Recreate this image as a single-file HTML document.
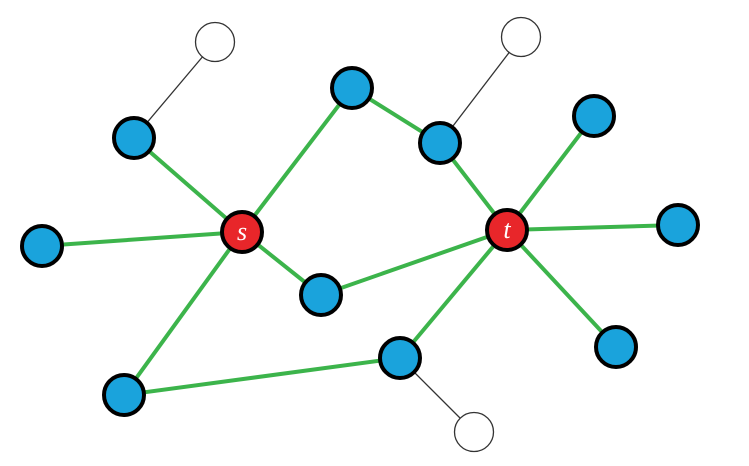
<!DOCTYPE html>
<html><head><style>html,body{margin:0;padding:0;background:#fff;width:749px;height:466px;overflow:hidden}</style></head>
<body>
<svg width="749" height="466" viewBox="0 0 749 466" xmlns="http://www.w3.org/2000/svg">
<g stroke="#333" stroke-width="1.3">
<line x1="134" y1="138" x2="215" y2="42"/>
<line x1="440" y1="143" x2="521" y2="37"/>
<line x1="400" y1="358" x2="474" y2="432"/>
</g>
<g stroke="#3cb44b" stroke-width="4">
<line x1="242" y1="232" x2="134" y2="138"/>
<line x1="242" y1="232" x2="352" y2="88"/>
<line x1="242" y1="232" x2="42" y2="246"/>
<line x1="242" y1="232" x2="321" y2="295"/>
<line x1="242" y1="232" x2="124" y2="395"/>
<line x1="352" y1="88" x2="440" y2="143"/>
<line x1="440" y1="143" x2="507" y2="230"/>
<line x1="321" y1="295" x2="507" y2="230"/>
<line x1="507" y1="230" x2="594" y2="116"/>
<line x1="507" y1="230" x2="678" y2="225"/>
<line x1="507" y1="230" x2="616" y2="347"/>
<line x1="507" y1="230" x2="400" y2="358"/>
<line x1="400" y1="358" x2="124" y2="395"/>
</g>
<g fill="#fff" stroke="#333" stroke-width="1.3">
<circle cx="215" cy="42" r="19.5"/>
<circle cx="521" cy="37" r="19.5"/>
<circle cx="474" cy="432" r="19.5"/>
</g>
<g fill="#1aa3dc" stroke="#000" stroke-width="4">
<circle cx="134" cy="138" r="20"/>
<circle cx="352" cy="88" r="20"/>
<circle cx="440" cy="143" r="20"/>
<circle cx="594" cy="116" r="20"/>
<circle cx="42" cy="246" r="20"/>
<circle cx="678" cy="225" r="20"/>
<circle cx="321" cy="295" r="20"/>
<circle cx="616" cy="347" r="20"/>
<circle cx="400" cy="358" r="20"/>
<circle cx="124" cy="395" r="20"/>
</g>
<g fill="#e8262a" stroke="#000" stroke-width="4">
<circle cx="242" cy="232" r="20"/>
<circle cx="507" cy="230" r="20"/>
</g>
<g fill="#fff" font-family="Liberation Serif, serif" font-style="italic" font-size="26" text-anchor="middle">
<text x="242" y="240">s</text>
<text x="507" y="238">t</text>
</g>
</svg>
</body></html>
